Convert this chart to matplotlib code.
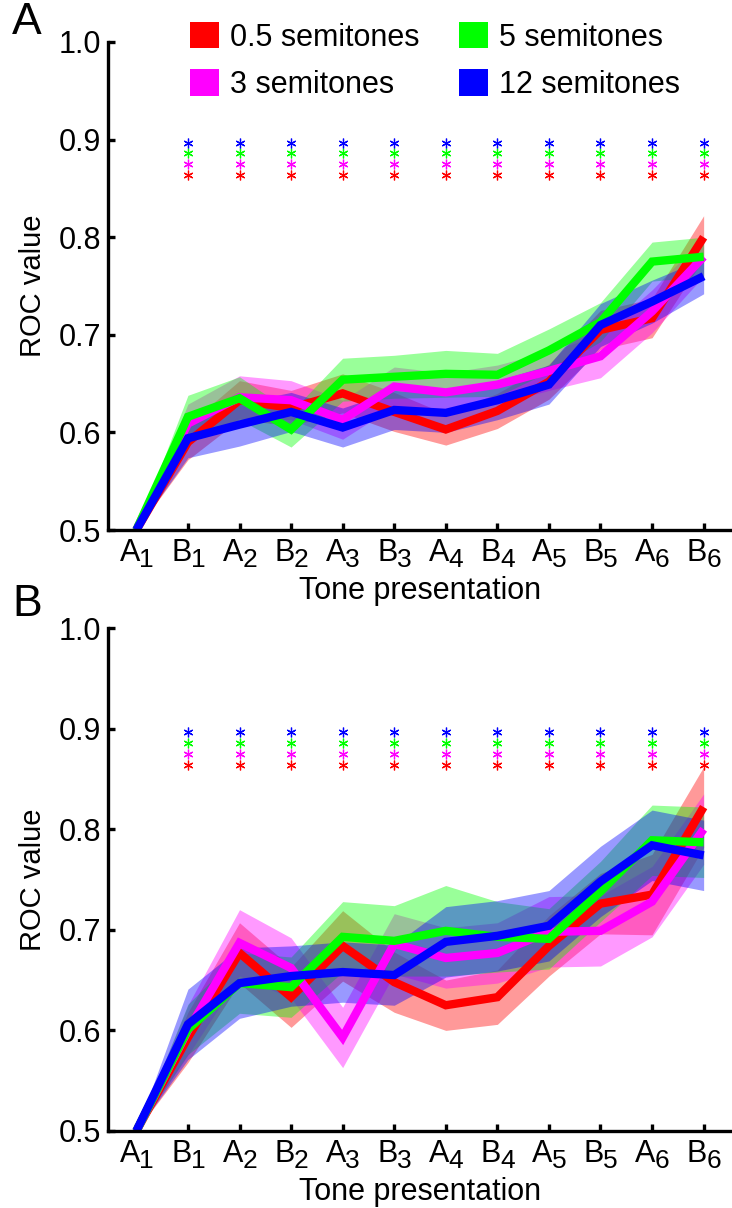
import matplotlib
matplotlib.use("Agg")
import matplotlib.pyplot as plt
from matplotlib.patches import Patch
import matplotlib.transforms as mtransforms
import numpy as np

plt.rcParams['font.family'] = ['Liberation Sans', 'DejaVu Sans']

tick_letters = ['A', 'B', 'A', 'B', 'A', 'B', 'A', 'B', 'A', 'B', 'A', 'B']
tick_subs = ['1', '1', '2', '2', '3', '3', '4', '4', '5', '5', '6', '6']
series_names = ['0.5 semitones', '3 semitones', '5 semitones', '12 semitones']
series_colors = ['#FF0000', '#FF00FF', '#00FF00', '#0000FF']

# Panel A means
a_red = [0.5, 0.590, 0.633, 0.625, 0.640, 0.621, 0.603, 0.622, 0.652, 0.705, 0.717, 0.800]
a_mag = [0.5, 0.609, 0.636, 0.633, 0.613, 0.647, 0.641, 0.649, 0.663, 0.678, 0.724, 0.780]
a_grn = [0.5, 0.616, 0.635, 0.603, 0.654, 0.657, 0.660, 0.659, 0.684, 0.713, 0.775, 0.780]
a_blu = [0.5, 0.594, 0.608, 0.621, 0.605, 0.623, 0.620, 0.633, 0.649, 0.710, 0.734, 0.760]
# Panel A half-widths of shaded bands
a_red_e = [0.0, 0.018, 0.020, 0.018, 0.020, 0.020, 0.016, 0.018, 0.018, 0.020, 0.020, 0.022]
a_mag_e = [0.0, 0.020, 0.022, 0.020, 0.020, 0.020, 0.020, 0.020, 0.020, 0.022, 0.022, 0.020]
a_grn_e = [0.0, 0.022, 0.022, 0.018, 0.022, 0.022, 0.024, 0.022, 0.022, 0.020, 0.020, 0.020]
a_blu_e = [0.0, 0.020, 0.022, 0.020, 0.020, 0.020, 0.020, 0.020, 0.020, 0.022, 0.022, 0.018]

# Panel B means
b_red = [0.5, 0.593, 0.677, 0.633, 0.684, 0.648, 0.625, 0.633, 0.684, 0.726, 0.735, 0.822]
b_mag = [0.5, 0.600, 0.687, 0.662, 0.593, 0.686, 0.672, 0.677, 0.698, 0.699, 0.728, 0.800]
b_grn = [0.5, 0.601, 0.647, 0.643, 0.693, 0.689, 0.699, 0.693, 0.691, 0.738, 0.789, 0.787]
b_blu = [0.5, 0.606, 0.647, 0.654, 0.658, 0.655, 0.688, 0.694, 0.704, 0.748, 0.784, 0.774]
b_red_e = [0.0, 0.025, 0.030, 0.030, 0.035, 0.030, 0.025, 0.027, 0.030, 0.030, 0.040, 0.040]
b_mag_e = [0.0, 0.025, 0.033, 0.030, 0.030, 0.030, 0.030, 0.030, 0.035, 0.035, 0.035, 0.035]
b_grn_e = [0.0, 0.025, 0.030, 0.030, 0.035, 0.035, 0.045, 0.035, 0.030, 0.030, 0.035, 0.035]
b_blu_e = [0.0, 0.035, 0.035, 0.030, 0.030, 0.030, 0.035, 0.035, 0.035, 0.035, 0.035, 0.035]

# significance asterisk rows (y level per series), at positions B1..B6
star_levels = [0.864, 0.875, 0.886, 0.897]
star_idx = list(range(1, 12))

fig = plt.figure(figsize=(7.32, 12.08), dpi=100)
W, H = 732, 1208

def make_axes(left_px, top_px, bottom_px):
    return fig.add_axes([left_px / W, 1 - bottom_px / H, (W - left_px) / W,
                         (bottom_px - top_px) / H])

axA = make_axes(108, 42, 530)
axB = make_axes(108, 628, 1131)

FS = 22

def draw(ax, means, errs):
    x = np.arange(len(tick_letters))
    for m, e, c in zip(means, errs, series_colors):
        m = np.array(m); e = np.array(e)
        ax.fill_between(x, m - e, m + e, color=c, alpha=0.4, lw=0)
    for m, c in zip(means, series_colors):
        ax.plot(x, m, color=c, lw=6, solid_joinstyle='miter', solid_capstyle='butt')
    for lvl, c in zip(star_levels, series_colors):
        ax.plot(star_idx, [lvl] * len(star_idx), ls='none', marker=(6, 2, 0),
                ms=7, mew=0.9, color=c)
    ax.set_xlim(-0.55, 11.55)
    ax.set_ylim(0.5, 1.0)
    ax.set_xticks(x)
    ax.set_xticklabels([''] * len(x))
    ax.set_yticks([0.5, 0.6, 0.7, 0.8, 0.9, 1.0])
    ax.set_yticklabels(['0.5', '0.6', '0.7', '0.8', '0.9', '1.0'])
    for s in ['top', 'right']:
        ax.spines[s].set_visible(False)
    for s in ['left', 'bottom']:
        ax.spines[s].set_linewidth(2.4)
    ax.tick_params(direction='in', length=5, width=2.4, labelsize=FS, pad=5)
    # tick labels: letter + enlarged subscript digit
    base = mtransforms.blended_transform_factory(ax.transData, ax.transAxes)
    for i, (L, n) in enumerate(zip(tick_letters, tick_subs)):
        t1 = base + mtransforms.ScaledTranslation(2.5 / 72, -6 / 72, fig.dpi_scale_trans)
        ax.text(i, 0, L, transform=t1, ha='right', va='top', fontsize=FS, clip_on=False)
        t2 = base + mtransforms.ScaledTranslation(2.0 / 72, -13 / 72, fig.dpi_scale_trans)
        ax.text(i, 0, n, transform=t2, ha='left', va='top', fontsize=FS - 3, clip_on=False)
    tl = ax.transAxes + mtransforms.ScaledTranslation(0, -33 / 72, fig.dpi_scale_trans)
    ax.text(0.5, 0, 'Tone presentation', transform=tl, ha='center', va='top', fontsize=FS)
    ax.set_ylabel('ROC value', fontsize=FS - 1, labelpad=8)

draw(axA, [a_red, a_mag, a_grn, a_blu], [a_red_e, a_mag_e, a_grn_e, a_blu_e])
draw(axB, [b_red, b_mag, b_grn, b_blu], [b_red_e, b_mag_e, b_grn_e, b_blu_e])

fig.text(12 / W, 1 - 22 / H, 'A', fontsize=32, va='center', ha='left')
fig.text(12 / W, 1 - 604 / H, 'B', fontsize=32, va='center', ha='left')

handles = [Patch(facecolor=c, edgecolor='none') for c in series_colors]
axA.legend(handles, series_names, ncol=2, frameon=False, fontsize=FS,
           handlelength=0.95, handleheight=0.95, handletextpad=0.35,
           columnspacing=1.3, labelspacing=0.55,
           loc='upper left', bbox_to_anchor=(190 / W, 1 - 22 / H),
           bbox_transform=fig.transFigure, borderaxespad=0, borderpad=0)

fig.savefig('out.png', dpi=100)
